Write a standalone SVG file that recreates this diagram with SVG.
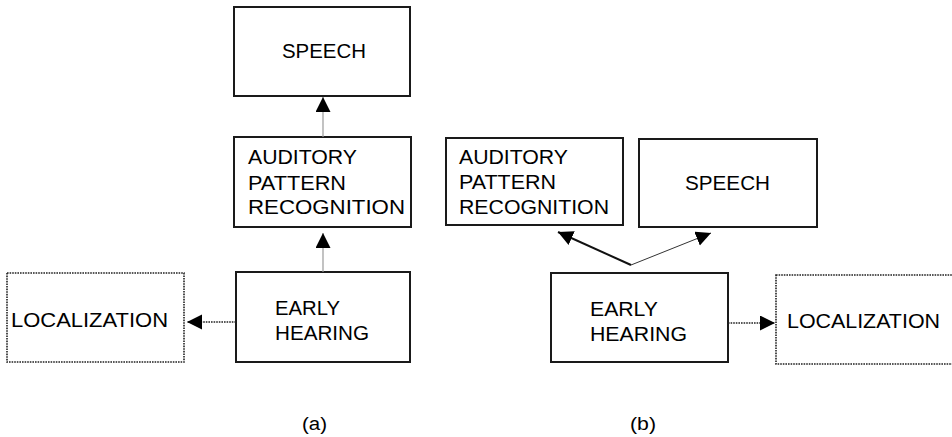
<svg xmlns="http://www.w3.org/2000/svg" width="952" height="437" viewBox="0 0 952 437">
  <style>
    .box { fill: #ffffff; stroke: #1a1a1a; stroke-width: 2; }
    .dotbox { fill: #ffffff; stroke: #222222; stroke-width: 1.6; stroke-dasharray: 1.6 1; }
    .lbl { font-family: "Liberation Sans", Arial, sans-serif; font-size: 20.5px; fill: #000000; }
    .cap { font-family: "Liberation Sans", Arial, sans-serif; font-size: 18px; fill: #000000; }
    .thin { stroke: #9a9a9a; stroke-width: 1.2; fill: none; }
    .bold { stroke: #111111; stroke-width: 2; fill: none; }
    .fine { stroke: #333333; stroke-width: 1; fill: none; }
    .dots { stroke: #222222; stroke-width: 1.6; stroke-dasharray: 1.6 1; fill: none; }
  </style>
  <defs>
    <marker id="head" markerUnits="userSpaceOnUse" markerWidth="16" markerHeight="16" refX="15" refY="7.5" orient="auto">
      <path d="M0,0 L15,7.5 L0,15 Z" fill="#000000"/>
    </marker>
  </defs>

  <rect width="952" height="437" fill="#ffffff"/>

  <!-- (a) hierarchy: early hearing feeds pattern recognition, which feeds speech -->
  <g id="a-speech">
    <rect class="box" x="234" y="7" width="176" height="89"/>
    <text class="lbl" x="282" y="58" textLength="84" lengthAdjust="spacingAndGlyphs">SPEECH</text>
  </g>
  <g id="a-pattern">
    <rect class="box" x="234" y="137" width="177" height="90"/>
    <text class="lbl" x="248" y="164" textLength="109" lengthAdjust="spacingAndGlyphs">AUDITORY</text>
    <text class="lbl" x="248" y="190" textLength="98" lengthAdjust="spacingAndGlyphs">PATTERN</text>
    <text class="lbl" x="248" y="214" textLength="157" lengthAdjust="spacingAndGlyphs">RECOGNITION</text>
  </g>
  <g id="a-early">
    <rect class="box" x="236" y="272" width="174" height="90"/>
    <text class="lbl" x="275" y="315" textLength="65" lengthAdjust="spacingAndGlyphs">EARLY</text>
    <text class="lbl" x="275" y="340" textLength="94" lengthAdjust="spacingAndGlyphs">HEARING</text>
  </g>
  <g id="a-localization">
    <rect class="dotbox" x="7" y="273" width="177" height="89"/>
    <text class="lbl" x="11" y="327" textLength="157" lengthAdjust="spacingAndGlyphs">LOCALIZATION</text>
  </g>

  <!-- (b) parallel: early hearing feeds both pattern recognition and speech -->
  <g id="b-pattern">
    <rect class="box" x="446" y="138" width="177" height="87"/>
    <text class="lbl" x="459" y="164" textLength="109" lengthAdjust="spacingAndGlyphs">AUDITORY</text>
    <text class="lbl" x="459" y="189" textLength="97" lengthAdjust="spacingAndGlyphs">PATTERN</text>
    <text class="lbl" x="459" y="214" textLength="150" lengthAdjust="spacingAndGlyphs">RECOGNITION</text>
  </g>
  <g id="b-speech">
    <rect class="box" x="639" y="139" width="178" height="88"/>
    <text class="lbl" x="685" y="190" textLength="85" lengthAdjust="spacingAndGlyphs">SPEECH</text>
  </g>
  <g id="b-early">
    <rect class="box" x="551" y="273" width="177" height="89"/>
    <text class="lbl" x="590" y="316" textLength="68" lengthAdjust="spacingAndGlyphs">EARLY</text>
    <text class="lbl" x="590" y="341" textLength="97" lengthAdjust="spacingAndGlyphs">HEARING</text>
  </g>
  <g id="b-localization">
    <rect class="dotbox" x="776" y="275" width="182" height="89"/>
    <text class="lbl" x="787" y="328" textLength="153" lengthAdjust="spacingAndGlyphs">LOCALIZATION</text>
  </g>

  <!-- connectors -->
  <g id="connectors">
    <line class="thin" x1="323" y1="137" x2="323" y2="97" marker-end="url(#head)"/>
    <line class="thin" x1="323" y1="272" x2="323" y2="233" marker-end="url(#head)"/>
    <line class="dots" x1="236" y1="322" x2="187" y2="322" marker-end="url(#head)"/>
    <line class="bold" x1="631" y1="265" x2="558" y2="232" marker-end="url(#head)"/>
    <line class="fine" x1="631" y1="265" x2="711" y2="233" marker-end="url(#head)"/>
    <line class="dots" x1="728" y1="323" x2="775" y2="323" marker-end="url(#head)"/>
  </g>

  <!-- panel captions -->
  <text class="cap" x="302" y="430" textLength="25" lengthAdjust="spacingAndGlyphs">(a)</text>
  <text class="cap" x="630" y="430" textLength="26" lengthAdjust="spacingAndGlyphs">(b)</text>
</svg>
